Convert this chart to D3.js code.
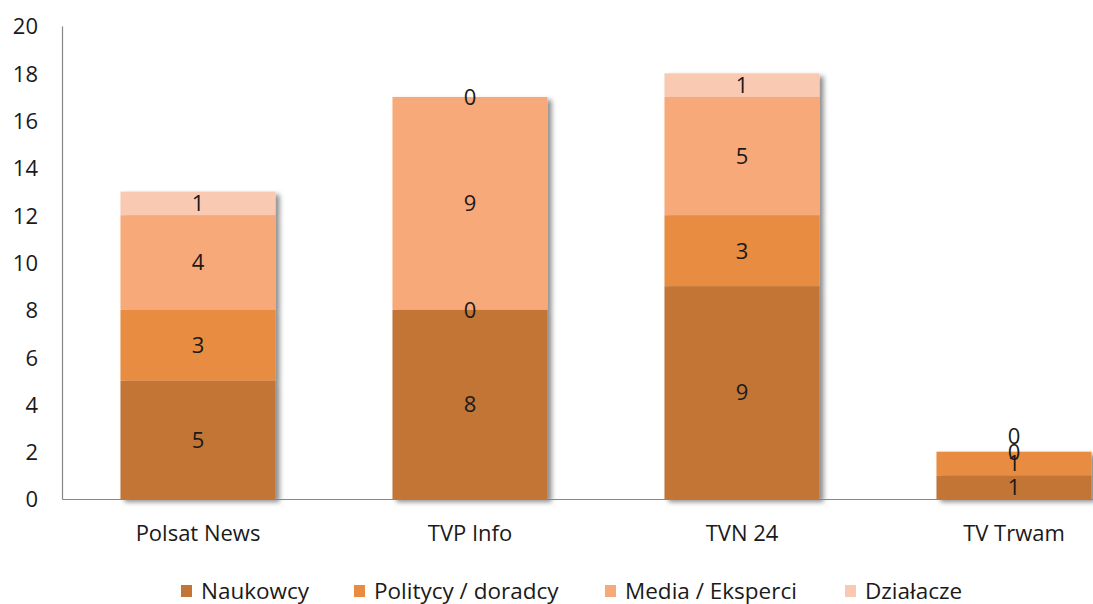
<!DOCTYPE html>
<html><head><meta charset="utf-8">
<script src="https://cdn.jsdelivr.net/npm/d3@7"></script>
<style>body{margin:0;background:#fff;} svg{display:block;} text{font-family:"Open Sans","Noto Sans",sans-serif;fill:#1a1a1a;}</style>
</head><body>
<svg id="c" width="1093" height="604"></svg>
<script>
const categories = ["Polsat News", "TVP Info", "TVN 24", "TV Trwam"];
const seriesNames = ["Naukowcy", "Politycy / doradcy", "Media / Eksperci", "Działacze"];
const naukowcy = [5, 8, 9, 1];
const politycy = [3, 0, 3, 1];
const media = [4, 9, 5, 0];
const dzialacze = [1, 0, 1, 0];
const yTicks = [0, 2, 4, 6, 8, 10, 12, 14, 16, 18, 20];
const colors = ["#C27535", "#E88C42", "#F7A979", "#F9C9B2"];

const seriesValues = [naukowcy, politycy, media, dzialacze];
const table = categories.map((c, i) => {
  const row = {cat: c};
  seriesNames.forEach((s, j) => row[s] = seriesValues[j][i]);
  return row;
});
const stacked = d3.stack().keys(seriesNames)(table);

const svg = d3.select("#c");
const defs = svg.append("defs");
const f = defs.append("filter").attr("id", "sh").attr("x", "-10%").attr("y", "-10%").attr("width", "130%").attr("height", "130%");
f.append("feDropShadow").attr("dx", 4).attr("dy", 3).attr("stdDeviation", 2.5).attr("flood-color", "#000").attr("flood-opacity", 0.45);

const x = d3.scaleBand().domain(categories).range([62, 1150]).paddingInner(0.43).paddingOuter(0.215);
const y = d3.scaleLinear().domain([0, 20]).range([499, 26]);

const barsG = svg.append("g");
categories.forEach((c, i) => {
  const g = barsG.append("g").attr("filter", "url(#sh)");
  stacked.forEach((s, j) => {
    const d = s[i];
    if (d[1] - d[0] <= 0) return;
    g.append("rect")
      .attr("x", x(c)).attr("width", x.bandwidth())
      .attr("y", y(d[1])).attr("height", y(d[0]) - y(d[1]))
      .attr("fill", colors[j]);
  });
});

const yAxis = d3.axisLeft(y).tickValues(yTicks).tickSize(0).tickPadding(24);
const ya = svg.append("g").attr("transform", "translate(62,0)").call(yAxis);
ya.select(".domain").attr("stroke", "#868686").attr("stroke-width", 1.2);
ya.selectAll("text").attr("font-size", 22).attr("font-family", null).attr("fill", "#1a1a1a").attr("dy", "0.36em");

const xAxis = d3.axisBottom(x).tickSize(0).tickPadding(26);
const xa = svg.append("g").attr("transform", "translate(0,499)").call(xAxis);
xa.select(".domain").attr("stroke", "#868686").attr("stroke-width", 1.2);
xa.selectAll("text").attr("font-size", 22).attr("font-family", null).attr("fill", "#1a1a1a");
ya.attr("font-family", null); xa.attr("font-family", null);

// data labels, nudging a label up when it would sit on the previous one in the same bar
const lbl = svg.append("g");
categories.forEach((c, i) => {
  let prevY = null;
  stacked.forEach((s, j) => {
    const d = s[i];
    const v = d[1] - d[0];
    let ly = y((d[0] + d[1]) / 2);
    if (prevY !== null && Math.abs(prevY - ly) < 4) ly = prevY - 16;
    prevY = ly;
    lbl.append("text")
      .attr("x", x(c) + x.bandwidth() / 2)
      .attr("y", ly)
      .attr("dy", "0.36em")
      .attr("text-anchor", "middle")
      .attr("font-size", 22)
      .text(v);
  });
});

const legX = [181, 354, 605, 845];
const leg = svg.append("g");
seriesNames.forEach((s, j) => {
  leg.append("rect").attr("x", legX[j]).attr("y", 585).attr("width", 11).attr("height", 12).attr("fill", colors[j]);
  leg.append("text").attr("x", legX[j] + 20).attr("y", 591).attr("dy", "0.36em").attr("font-size", 22.5).text(s);
});
</script>
</body></html>
